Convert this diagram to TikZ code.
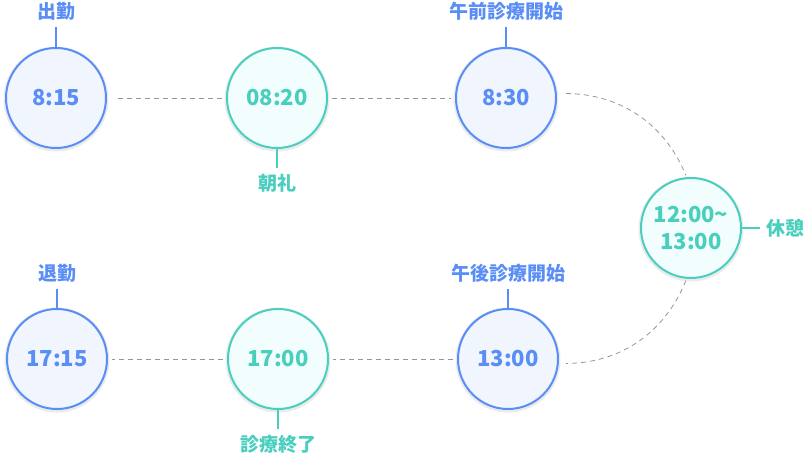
\documentclass[tikz,border=0pt]{standalone}
\usepackage{fontspec}
\setmainfont{Noto Sans CJK JP}
\usepackage{tikz}
\usepackage{xcolor}
\usetikzlibrary{positioning, shadows}
\definecolor{cBlue}{RGB}{90,142,246}
\definecolor{cBlueBg}{RGB}{240,245,254}
\definecolor{cTeal}{RGB}{74,206,190}
\definecolor{cTealBg}{RGB}{242,254,253}
\definecolor{cDash}{RGB}{150,150,150}
\newcommand{\timefont}{\fontsize{22}{27}\selectfont\bfseries}
\newcommand{\tagfont}{\fontsize{19}{22}\selectfont\bfseries}
\tikzset{
	stop/.style     ={circle, minimum size=100pt, inner sep=0pt, line width=2pt, align=center, font=\timefont,
		drop shadow={shadow xshift=0pt, shadow yshift=-1pt, shadow scale=1.05, fill=black, opacity=0.08}},
	stopblue/.style ={stop, draw=cBlue, fill=cBlueBg, text=cBlue},
	stopteal/.style ={stop, draw=cTeal, fill=cTealBg, text=cTeal},
	% labels hanging on a stop
	tag/.style      ={inner sep=6pt, font=\tagfont},
	tagblue/.style  ={tag, text=cBlue},
	tagteal/.style  ={tag, text=cTeal},
	tick/.style     ={line width=1.5pt},
	link/.style     ={draw=cDash, line width=0.8pt, dash pattern=on 5pt off 4pt, shorten <=4pt, shorten >=4pt},
}

\begin{document}
\begin{tikzpicture}[x=1pt, y=1pt]
	\useasboundingbox (0,0) rectangle (805,455);
	% morning row
	\node[stopblue] (t1) at (56,357) {8:15};
	\node[stopteal] (t2) at (277,357) {08:20};
	\node[stopblue] (t3) at (506,357) {8:30};
	\node[stopteal] (t4) at (691,227) {12:00\textasciitilde\\13:00};
	% afternoon row
	\node[stopblue] (t5) at (508,96) {13:00};
	\node[stopteal] (t6) at (278,96) {17:00};
	\node[stopblue] (t7) at (57,96) {17:15};
	% labels
	\node[tagblue, above=20pt of t1] (l1) {出勤};
	\node[tagteal, below=19pt of t2] (l2) {朝礼};
	\node[tagblue, above=20pt of t3] (l3) {午前診療開始};
	\node[tagteal, right=18pt of t4] (l4) {休憩};
	\node[tagblue, above=19pt of t5] (l5) {午後診療開始};
	\node[tagteal, below=19pt of t6] (l6) {診療終了};
	\node[tagblue, above=19pt of t7] (l7) {退勤};
	\draw[tick, cBlue] (t1)--(l1); \draw[tick, cTeal] (t2)--(l2);
	\draw[tick, cBlue] (t3)--(l3); \draw[tick, cTeal] (t4)--(l4);
	\draw[tick, cBlue] (t5)--(l5); \draw[tick, cTeal] (t6)--(l6);
	\draw[tick, cBlue] (t7)--(l7);
	% dashed connectors
	\draw[link, shorten <=11pt](t1)--(t2); \draw[link](t2)--(t3);
	\draw[link, shorten <=9pt, shorten >=2pt](t3.5) to[out=0, in=112] (t4.95);
	\draw[link, shorten <=2pt, shorten >=7pt](t4.265) to[out=-112, in=0] (t5.355);
	\draw[link](t5)--(t6); \draw[link](t6)--(t7);
\end{tikzpicture}
\end{document}
